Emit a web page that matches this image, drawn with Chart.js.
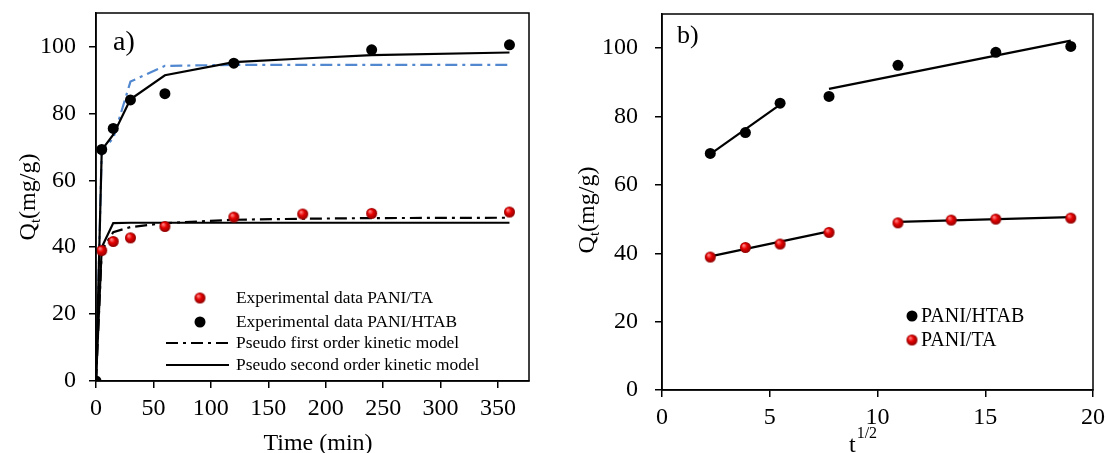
<!DOCTYPE html>
<html>
<head>
<meta charset="utf-8">
<script src="https://cdn.jsdelivr.net/npm/chart.js@4.4.1/dist/chart.umd.min.js"></script>
<style>
  html, body { margin: 0; padding: 0; background: #fff; }
  #wrap { position: relative; width: 1106px; height: 453px; }
  .panel { position: absolute; top: 0; width: 553px; height: 453px; }
</style>
</head>
<body>
<div id="wrap">
  <div class="panel" style="left:0"><canvas id="chartA" width="553" height="453"></canvas></div>
  <div class="panel" style="left:553px"><canvas id="chartB" width="553" height="453"></canvas></div>
</div>
<script>
// ---- panel a) kinetics vs time (min)
const htabTime = [0, 5, 15, 30, 60, 120, 240, 360];
const htabQ    = [0, 69.2, 75.5, 84, 85.9, 95, 99, 100.5];
const taTime   = [5, 15, 30, 60, 120, 180, 240, 360];
const taQ      = [39, 41.7, 42.8, 46.2, 49, 49.9, 50.1, 50.5];

const modelTime = [0, 5, 15, 30, 60, 120, 180, 240, 360];
const pfoHTAB   = [0, 69, 72.5, 89.5, 94.2, 94.5, 94.5, 94.5, 94.5];
const psoHTAB   = [0, 69, 73.6, 84.2, 91.4, 95.3, 96.4, 97.4, 98.2];
const pfoTA     = [0, 39, 44.5, 46, 47.2, 48.2, 48.5, 48.7, 48.8];
const psoTA     = [0, 40, 47.2, 47.3, 47.3, 47.3, 47.3, 47.3, 47.3];

// ---- panel b) intraparticle diffusion vs t^1/2
const htabRootT = [2.24, 3.87, 5.48, 7.75, 10.95, 15.49, 18.97];
const htabQb    = [69.2, 75.3, 83.9, 85.9, 95, 98.8, 100.5];
const taRootT   = [2.24, 3.87, 5.48, 7.75, 10.95, 13.42, 15.49, 18.97];
const taQb      = [38.9, 41.7, 42.7, 46.1, 48.9, 49.7, 50, 50.3];

const htabFit1X = [2.24, 5.48],  htabFit1Y = [69, 83.5];
const htabFit2X = [7.75, 18.97], htabFit2Y = [88.1, 102.2];
const taFit1X   = [2.24, 7.75],  taFit1Y   = [39.1, 46.4];
const taFit2X   = [10.95, 18.97], taFit2Y  = [49.2, 50.6];

// tick labels
const yTicks    = [0, 20, 40, 60, 80, 100];
const timeTicks = [0, 50, 100, 150, 200, 250, 300, 350];
const rootTicks = [0, 5, 10, 15, 20];

const FONT = "'Liberation Serif', 'Times New Roman', serif";
const BLUE = '#5288cf';

function pts(xs, ys) {
  return xs.map((x, i) => ({ x: x, y: ys[i] }));
}

// shaded red ball, like the original markers
function ballImage(r) {
  const c = document.createElement('canvas');
  c.width = c.height = 2 * r + 2;
  const g = c.getContext('2d');
  const m = r + 1;
  const grad = g.createRadialGradient(m - r * 0.35, m - r * 0.4, r * 0.1, m, m, r);
  grad.addColorStop(0, '#ff8080');
  grad.addColorStop(0.45, '#e60000');
  grad.addColorStop(1, '#8c0000');
  g.fillStyle = grad;
  g.beginPath();
  g.arc(m, m, r, 0, Math.PI * 2);
  g.fill();
  return c;
}
const redBall = ballImage(5.5);

function pointSet(data, black) {
  return {
    data: data,
    showLine: false,
    pointStyle: black ? 'circle' : redBall,
    pointRadius: 5.5,
    pointBackgroundColor: '#000',
    pointBorderWidth: 0
  };
}
function lineSet(data, color, dash) {
  return {
    data: data,
    showLine: true,
    borderColor: color,
    borderWidth: 2.2,
    borderDash: dash || [],
    pointRadius: 0,
    fill: false
  };
}

// no extra room for overhanging labels, the layout padding sets the plot box
function noPad(s) {
  s.paddingTop = s.paddingBottom = s.paddingLeft = s.paddingRight = 0;
}

function axes(xMax, xTicks, yWidth, xHeight, yPad) {
  const grid = { drawOnChartArea: false, drawTicks: true, tickLength: 7, color: '#000', lineWidth: 1.5 };
  return {
    x: {
      type: 'linear', min: 0, max: xMax,
      ticks: { color: '#000', font: { family: FONT, size: 24 }, padding: 6, maxRotation: 0, autoSkip: false },
      grid: grid,
      border: { color: '#000', width: 1.5 },
      afterBuildTicks: s => { s.ticks = xTicks.map(v => ({ value: v })); },
      afterFit: s => { s.height = xHeight; noPad(s); }
    },
    y: {
      min: 0, max: 110,
      ticks: { color: '#000', font: { family: FONT, size: 24 }, padding: yPad, autoSkip: false },
      grid: grid,
      border: { color: '#000', width: 1.5 },
      afterBuildTicks: s => { s.ticks = yTicks.map(v => ({ value: v })); },
      afterFit: s => { s.width = yWidth; noPad(s); }
    }
  };
}

// Q_t(mg/g) rotated, with subscript
function drawYTitle(ctx, cx, cy) {
  ctx.save();
  ctx.translate(cx, cy);
  ctx.rotate(-Math.PI / 2);
  ctx.fillStyle = '#000';
  ctx.textBaseline = 'alphabetic';
  ctx.font = '24px ' + FONT;
  const wQ = ctx.measureText('Q').width;
  const wR = ctx.measureText('(mg/g)').width;
  ctx.font = '15px ' + FONT;
  const wt = ctx.measureText('t').width;
  let x = -(wQ + wt + wR) / 2;
  ctx.font = '24px ' + FONT;
  ctx.fillText('Q', x, 8);
  x += wQ;
  ctx.font = '15px ' + FONT;
  ctx.fillText('t', x, 13);
  x += wt;
  ctx.font = '24px ' + FONT;
  ctx.fillText('(mg/g)', x, 8);
  ctx.restore();
}

const frame = {
  id: 'frame',
  afterDraw(chart) {
    const { ctx, chartArea: a } = chart;
    ctx.save();
    ctx.strokeStyle = '#000';
    ctx.lineWidth = 1.5;
    ctx.strokeRect(a.left, a.top, a.right - a.left, a.bottom - a.top);
    ctx.restore();
  }
};

// ---------- chart a
const decoA = {
  id: 'decoA',
  afterDraw(chart) {
    const ctx = chart.ctx;
    ctx.save();
    ctx.fillStyle = '#000';
    ctx.textBaseline = 'alphabetic';
    ctx.font = '28px ' + FONT;
    ctx.fillText('a)', 113, 50);
    ctx.font = '24px ' + FONT;
    ctx.textAlign = 'center';
    ctx.fillText('Time (min)', 318, 450);
    ctx.restore();
    drawYTitle(ctx, 27, 197);

    // legend
    ctx.save();
    ctx.font = '17.4px ' + FONT;
    ctx.textBaseline = 'middle';
    ctx.fillStyle = '#000';
    const tx = 236;
    const rows = [298, 322, 343, 365];
    ctx.drawImage(redBall, 200 - 6.5, rows[0] - 6.5);
    ctx.beginPath(); ctx.arc(200, rows[1], 5.5, 0, Math.PI * 2); ctx.fill();
    ctx.strokeStyle = '#000';
    ctx.lineWidth = 2.2;
    ctx.setLineDash([12, 5, 3, 5]);
    ctx.beginPath(); ctx.moveTo(166, rows[2]); ctx.lineTo(229, rows[2]); ctx.stroke();
    ctx.setLineDash([]);
    ctx.beginPath(); ctx.moveTo(166, rows[3]); ctx.lineTo(229, rows[3]); ctx.stroke();
    ctx.fillText('Experimental data PANI/TA', tx, rows[0]);
    ctx.fillText('Experimental data PANI/HTAB', tx, rows[1]);
    ctx.fillText('Pseudo first order kinetic model', tx, rows[2]);
    ctx.fillText('Pseudo second order kinetic model', tx, rows[3]);
    ctx.restore();
  }
};

new Chart(document.getElementById('chartA'), {
  type: 'scatter',
  data: {
    datasets: [
      pointSet(pts(htabTime, htabQ), true),
      pointSet(pts(taTime, taQ), false),
      lineSet(pts(modelTime, psoHTAB), '#000'),
      lineSet(pts(modelTime, psoTA), '#000'),
      lineSet(pts(modelTime, pfoTA), '#000', [12, 5, 3, 5]),
      lineSet(pts(modelTime, pfoHTAB), BLUE, [12, 5, 3, 5])
    ]
  },
  options: {
    responsive: false,
    animation: false,
    layout: { padding: { top: 13, right: 24, left: 0, bottom: 0 } },
    plugins: { legend: { display: false }, tooltip: { enabled: false } },
    scales: axes(377, timeTicks, 96, 72, 13)
  },
  plugins: [frame, decoA]
});

// ---------- chart b
const decoB = {
  id: 'decoB',
  afterDraw(chart) {
    const ctx = chart.ctx;
    ctx.save();
    ctx.fillStyle = '#000';
    ctx.textBaseline = 'alphabetic';
    ctx.font = '26px ' + FONT;
    ctx.fillText('b)', 124, 43);
    ctx.font = '24px ' + FONT;
    ctx.fillText('t', 296, 452);
    const wt = ctx.measureText('t').width;
    ctx.font = '16px ' + FONT;
    ctx.fillText('1/2', 296 + wt + 1, 438);
    ctx.restore();
    drawYTitle(ctx, 33, 210);

    // legend
    ctx.save();
    ctx.font = '20px ' + FONT;
    ctx.textBaseline = 'middle';
    ctx.fillStyle = '#000';
    ctx.beginPath(); ctx.arc(359, 316, 5.5, 0, Math.PI * 2); ctx.fill();
    ctx.drawImage(redBall, 359 - 6.5, 340 - 6.5);
    ctx.fillText('PANI/HTAB', 368, 317);
    ctx.fillText('PANI/TA', 368, 341);
    ctx.restore();
  }
};

new Chart(document.getElementById('chartB'), {
  type: 'scatter',
  data: {
    datasets: [
      pointSet(pts(htabRootT, htabQb), true),
      pointSet(pts(taRootT, taQb), false),
      lineSet(pts(htabFit1X, htabFit1Y), '#000'),
      lineSet(pts(htabFit2X, htabFit2Y), '#000'),
      lineSet(pts(taFit1X, taFit1Y), '#000'),
      lineSet(pts(taFit2X, taFit2Y), '#000')
    ]
  },
  options: {
    responsive: false,
    animation: false,
    layout: { padding: { top: 14, right: 13, left: 0, bottom: 0 } },
    plugins: { legend: { display: false }, tooltip: { enabled: false } },
    scales: axes(20, rootTicks, 109, 63, 17)
  },
  plugins: [frame, decoB]
});
</script>
</body>
</html>
